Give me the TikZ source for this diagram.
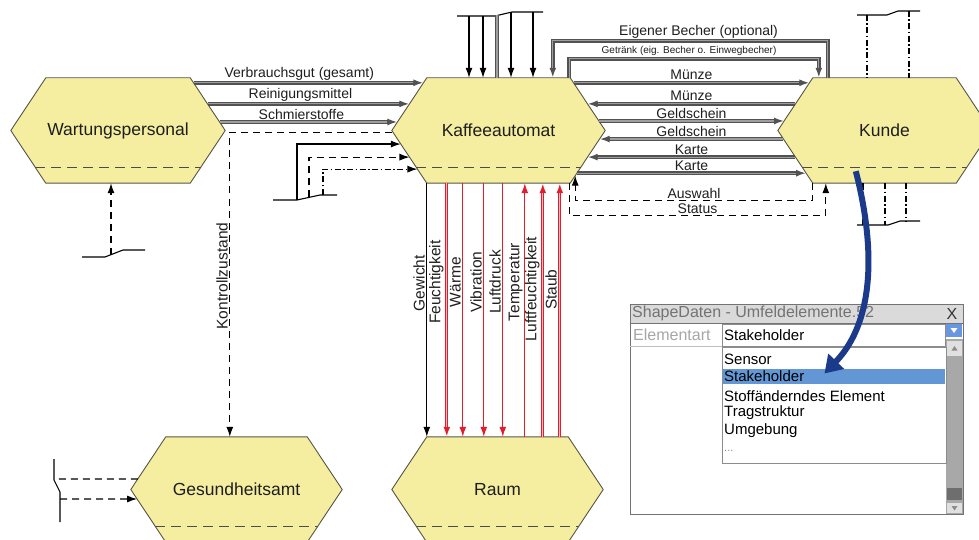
\documentclass[tikz,border=0pt]{standalone}
\usepackage{fontspec}
\setmainfont{Liberation Sans}
\usetikzlibrary{calc,arrows.meta,backgrounds}

\definecolor{hexfill}{RGB}{245,238,160}
\definecolor{hexline}{RGB}{85,85,70}
\definecolor{txt}{RGB}{30,30,30}
\definecolor{flowred}{RGB}{226,30,45}
\definecolor{pinkcore}{RGB}{248,185,190}
\definecolor{navy}{RGB}{28,58,138}
\definecolor{selblue}{RGB}{98,150,212}
\definecolor{btnblue}{RGB}{105,150,225}
\definecolor{titlegray}{RGB}{218,218,218}
\definecolor{scrollgray}{RGB}{168,168,168}
\definecolor{thumbgray}{RGB}{110,110,110}

\newcommand\fsz[1]{\fontsize{#1}{#1}\selectfont}

\begin{document}
\begin{tikzpicture}[x=1pt,y=-1pt,
  hexa/.style={minimum width=#1, minimum height=105pt, inner sep=0pt, text=txt, font=\fsz{17.5}},
  hexbody/.style={fill=hexfill, draw=hexline, line width=0.9pt, line join=miter},
  hexsplit/.style={draw=black!70, line width=0.9pt, dash pattern=on 10pt off 6pt},
  endtip/.style={-{Latex[length=10pt,width=7pt]}},
  flow/.style={draw=black!68, line width=3.6pt, line join=miter, endtip,
               postaction={draw=black!38, line width=1.2pt, -, shorten >=10pt}},
  flowplain/.style={draw=black!68, line width=3.6pt, postaction={draw=black!38, line width=1.2pt}},
  thinline/.style={draw=black, line width=1.1pt},
  thinarrow/.style={thinline, endtip},
  dsh/.style={draw=black, line width=1.1pt, dash pattern=on 7pt off 5pt},
  dashdotline/.style={draw=black, line width=1.1pt, dash pattern=on 6pt off 2.5pt on 1.5pt off 2.5pt},
  redline/.style={draw=flowred, line width=1.3pt, endtip},
  reddouble/.style={draw=flowred, line width=3.2pt, endtip,
                    postaction={draw=pinkcore, line width=1.2pt, -, shorten >=10pt}},
  lbl/.style={font=\fsz{14}, text=txt, inner sep=1pt},
  lblsmall/.style={font=\fsz{10}, text=txt, inner sep=1.5pt},
  vlbl/.style={font=\fsz{15.5}, text=txt, inner sep=1.5pt, rotate=90, anchor=south},
  boundary/.style={draw=black, line width=1.1pt},
  dlgtext/.style={font=\fsz{15}, inner sep=0pt, anchor=west},
]
\useasboundingbox (0,0) rectangle (979,540);

% ---------------- stakeholders ----------------
\node[hexa=144pt] (wp) at (118,130.5)   {Wartungspersonal};
\node[hexa=143pt] (ka) at (498.5,130.5) {Kaffeeautomat};
\node[hexa=143pt] (ku) at (884.5,130.5) {Kunde};
\node[hexa=141pt] (ga) at (236.5,489.5) {Gesundheitsamt};
\node[hexa=141pt] (ra) at (497.5,489.5) {Raum};

\begin{pgfonlayer}{background}
  \begin{scope}
    \clip (0,0) rectangle (979,540);
    \foreach \n in {wp,ka,ku,ga,ra}{
      \coordinate (\n-W) at ($(\n.west)+(-35,0)$);
      \coordinate (\n-E) at ($(\n.east)+(35,0)$);
      \filldraw[hexbody] (\n.north west) -- (\n.north east) -- (\n-E)
        -- (\n.south east) -- (\n.south west) -- (\n-W) -- cycle;
      \draw[hexsplit] ($(\n.south west)!0.305!(\n-W)$) -- ($(\n.south east)!0.305!(\n-E)$);
    }
  \end{scope}
\end{pgfonlayer}

% ---------------- maintenance staff -> machine ----------------
\draw[flow] ($(wp.north east)!0.095!(wp-E)$) -- node[lbl,above,pos=0.46]{Verbrauchsgut (gesamt)} ($(ka.north west)!0.095!(ka-W)$);
\draw[flow] ($(wp.north east)!0.495!(wp-E)$) -- node[lbl,above,pos=0.46]{Reinigungsmittel} ($(ka.north west)!0.495!(ka-W)$);
\draw[flow] ($(wp.north east)!0.838!(wp-E)$) -- node[lbl,above,pos=0.46]{Schmierstoffe} ($(ka.north west)!0.838!(ka-W)$);

% control state reported to the health authority
\coordinate (kz) at ($(ga.north west)+(64,0)$);
\draw[dsh,endtip] ($(ka-W)+(0,2)$) -| node[vlbl,pos=0.736]{Kontrollzustand} (kz);

% boundary stub below the maintenance staff
\draw[boundary] (82,257) -- (105,257) -- (123,250) -- (145,250);
\coordinate (sw1) at (111,255);
\draw[dsh,endtip] (sw1) -- (sw1 |- wp.south);

% boundary stub left of the machine
\draw[boundary] (273,200) -- (297,200) -- (320,195) -- (337,195);
\coordinate (s1) at (297,200);
\coordinate (s2) at (309,197.5);
\coordinate (s3) at (323,195);
\draw[thinarrow] (s1) |- ($(ka-W)!0.257!(ka.south west)$);
\draw[dsh,endtip] (s2) |- ($(ka-W)!0.505!(ka.south west)$);
\draw[dashdotline,endtip] (s3) |- ($(ka-W)!0.733!(ka.south west)$);

% boundary stub above the machine
\draw[boundary] (457,16) -- (495,16) -- (512,12) -- (543,12);
\coordinate (t1) at (469,16);
\coordinate (t2) at (483,16);
\coordinate (t3) at (497,15.5);
\coordinate (t4) at (511,12.3);
\coordinate (t5) at (533,12);
\draw[thinarrow] (t1) -- (t1 |- ka.north);
\draw[thinarrow] (t2) -- (t2 |- ka.north);
\draw[flowplain] (t3) -- (t3 |- ka.north);
\draw[thinarrow] (t4) -- (t4 |- ka.north);
\draw[thinarrow] (t5) -- (t5 |- ka.north);

% ---------------- machine <-> customer ----------------
\draw[flow] ($(ku.north west)+(15,0)$) -- ++(0,-37)
  -| node[lbl,above,pos=0.235]{Eigener Becher (optional)} ($(ka.north west)+(126,0)$);
\draw[flow] ($(ka.north east)+(-1,0)$) -- ++(0,-19)
  -| node[lblsmall,above,pos=0.24]{Getränk (eig. Becher o. Einwegbecher)} ($(ku.north west)+(6,0)$);

\draw[flow] ($(ka.north east)!0.095!(ka-E)$) -- node[lbl,above]{Münze} ($(ku.north west)!0.095!(ku-W)$);
\draw[flow] ($(ku.north west)!0.495!(ku-W)$) -- node[lbl,above]{Münze} ($(ka.north east)!0.495!(ka-E)$);
\draw[flow] ($(ka.north east)!0.819!(ka-E)$) -- node[lbl,above]{Geldschein} ($(ku.north west)!0.819!(ku-W)$);
\draw[flow] ($(ku-W)!0.162!(ku.south west)$) -- node[lbl,above]{Geldschein} ($(ka-E)!0.162!(ka.south east)$);
\draw[flow] ($(ku-W)!0.505!(ku.south west)$) -- node[lbl,above]{Karte} ($(ka-E)!0.505!(ka.south east)$);
\draw[flow] ($(ka-E)!0.81!(ka.south east)$) -- node[lbl,above]{Karte} ($(ku-W)!0.81!(ku.south west)$);

\coordinate (kaAus) at ($(ka.south east)!0.143!(ka-E)$);
\draw[dsh,endtip] (ku.south west) -- ++(0,17) -| node[lbl,above,pos=0.25]{Auswahl} (kaAus);
\draw[dsh,endtip] ($(ka.south east)+(-1,0)$) -- ++(0,32) -| node[lbl,above,pos=0.25]{Status} ($(ku.south west)+(13,0)$);

% boundary stubs of the customer
\draw[boundary] (857,15) -- (887,15) -- (898,11) -- (920,11);
\coordinate (k1) at (867,15);
\coordinate (k2) at (909,11);
\draw[dashdotline] (k1) -- (k1 |- ku.north);
\draw[dashdotline] (k2) -- (k2 |- ku.north);
\draw[boundary] (857,225) -- (888,225) -- (900,221) -- (920,221);
\coordinate (k3) at (863,225);
\coordinate (k4) at (885,225);
\coordinate (k5) at (906,221);
\draw[dsh] (k3 |- ku.south) -- (k3);
\draw[dashdotline] (k4 |- ku.south) -- (k4);
\draw[dashdotline] (k5 |- ku.south) -- (k5);

% ---------------- machine <-> room ----------------
\draw[thinarrow] (ka.south west) -- node[vlbl,pos=0.394]{Gewicht} (ka.south west |- ra.north);
\foreach \dx/\name/\sty in {20/Feuchtigkeit/reddouble, 36/Wärme/redline, 57/Vibration/redline, 76/Luftdruck/redline}{
  \draw[\sty] ($(ka.south west)+(\dx,0)$) -- node[vlbl,pos=0.39]{\name} ($(ka.south west |- ra.north)+(\dx,0)$);
}
\draw[redline] ($(ka.south west |- ra.north)+(98,0)$) -- node[vlbl,pos=0.61]{Temperatur} ($(ka.south west)+(98,0)$);
\draw[reddouble] ($(ka.south west |- ra.north)+(116,0)$) -- node[vlbl,pos=0.583]{Luftfeuchtigkeit} ($(ka.south west)+(116,0)$);
\draw[reddouble] ($(ka.south west |- ra.north)+(133,0)$) -- node[vlbl,pos=0.58]{Staub} ($(ka.south west)+(133,0)$);

% boundary stub of the health authority
\draw[boundary] (54,459) -- (54,480) -- (60,492) -- (60,522);
\coordinate (g1) at (54,479);
\coordinate (g2) at (60,499);
\draw[dsh] ($(ga.north west)!0.8!(ga-W)$) -- (g1);
\draw[dsh,endtip] (g2) -- ($(ga-W)!0.18!(ga.south west)$);

% ---------------- shape data dialog ----------------
\draw[fill=white, draw=black!55, line width=0.8pt] (630,304) rectangle (963,514);
\draw[fill=titlegray, draw=black!55, line width=0.8pt] (630,304) rectangle (963,323);
\node[font=\fsz{16}, text=black!55, inner sep=0pt, anchor=west] (dlgtitle) at (632,313.5) {ShapeDaten - Umfeldelemente.52};
\node[font=\fsz{16}, text=black!80, inner sep=0pt] (dlgclose) at (952,313.5) {X};
\node[font=\fsz{16}, text=black!35, inner sep=0pt, anchor=west] (dlgkey) at (633,335) {Elementart};
\draw[black!25, line width=0.8pt] (630,346) -- (722,346);
\draw[fill=white, draw=black!45, line width=0.8pt] (722,324) rectangle (945,346);
\node[dlgtext] (dlgval) at (724,335) {Stakeholder};
\fill[btnblue] (946,324) rectangle (962,337);
\fill[white] (950.5,328) -- (957.5,328) -- (954,333) -- cycle;
\fill[scrollgray] (946,339) rectangle (963,514);
\fill[black!12] (947,341) rectangle (962,356);
\fill[black!45] (951.5,350.5) -- (957.5,350.5) -- (954.5,346) -- cycle;
\fill[thumbgray] (947,488) rectangle (962,500);
\fill[black!12] (947,503) rectangle (962,513);
\fill[black!45] (951.5,506) -- (957.5,506) -- (954.5,510.5) -- cycle;
\draw[fill=white, draw=black!45, line width=0.8pt] (722,347) rectangle (946,463);
\fill[selblue] (723,369) rectangle (945,384);
\node[dlgtext] (it1) at (724,359) {Sensor};
\node[dlgtext] (it2) at (724,376.5) {Stakeholder};
\node[dlgtext] (it3) at (724,396) {Stoffänderndes Element};
\node[dlgtext] (it4) at (724,413) {Tragstruktur};
\node[dlgtext] (it5) at (724,431) {Umgebung};
\node[dlgtext, font=\fsz{11}, text=black!45] (it6) at (724,451) {...};

% the customer is typed as stakeholder
\coordinate (bStart) at ($(ku.south west)+(43,-12)$);
\coordinate (bEnd) at ($(it2.east)+(20,-3)$);
\draw[navy, line width=6pt, -{Triangle[length=17pt,width=21pt]}]
  (bStart) .. controls (876,250) and (874,322) .. (bEnd);
\end{tikzpicture}
\end{document}
